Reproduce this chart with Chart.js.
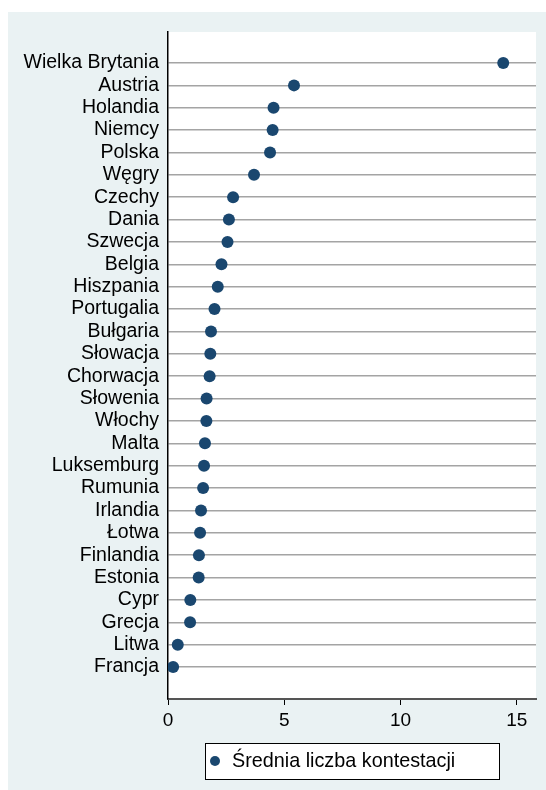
<!DOCTYPE html>
<html>
<head>
<meta charset="utf-8">
<script src="https://cdn.jsdelivr.net/npm/chart.js@4"></script>
<style>
  html, body { margin: 0; padding: 0; background: #ffffff; }
  #wrap { position: relative; width: 546px; height: 790px; }
</style>
</head>
<body>
<div id="wrap"><canvas id="c" width="546" height="790"></canvas></div>
<script>
const categories = ["Wielka Brytania","Austria","Holandia","Niemcy","Polska","Węgry","Czechy","Dania","Szwecja","Belgia","Hiszpania","Portugalia","Bułgaria","Słowacja","Chorwacja","Słowenia","Włochy","Malta","Luksemburg","Rumunia","Irlandia","Łotwa","Finlandia","Estonia","Cypr","Grecja","Litwa","Francja"];
const values = [14.42,5.42,4.54,4.50,4.39,3.70,2.80,2.62,2.56,2.30,2.14,2.00,1.85,1.82,1.79,1.66,1.65,1.59,1.55,1.51,1.42,1.38,1.33,1.32,0.96,0.95,0.42,0.22];
const xTicks = [0,5,10,15];
const seriesLabel = "Średnia liczba kontestacji";

const FONT = "'Liberation Sans', Arial, Helvetica, sans-serif";
const NAVY = "#1a476f";

const bgPlugin = {
  id: 'bg',
  beforeDraw(chart) {
    const ctx = chart.ctx, a = chart.chartArea;
    ctx.save();
    ctx.fillStyle = '#eaf2f3';
    ctx.fillRect(8, 12, chart.width - 8, chart.height - 12);
    ctx.fillStyle = '#ffffff';
    ctx.fillRect(a.left, a.top, a.right - a.left, a.bottom - a.top);
    ctx.restore();
  },
  afterDraw(chart) {
    const ctx = chart.ctx;
    const label = chart.data.datasets[0].label;
    ctx.save();
    const bx = 205, by = 743, bw = 294, bh = 36;
    ctx.fillStyle = '#ffffff';
    ctx.fillRect(bx, by, bw, bh);
    ctx.strokeStyle = '#000000';
    ctx.lineWidth = 1;
    ctx.strokeRect(bx + 0.5, by + 0.5, bw, bh);
    ctx.fillStyle = NAVY;
    ctx.beginPath();
    ctx.arc(215, by + bh / 2, 5, 0, Math.PI * 2);
    ctx.fill();
    ctx.fillStyle = '#000000';
    ctx.font = "19.8px " + FONT;
    ctx.textBaseline = 'middle';
    ctx.textAlign = 'left';
    ctx.fillText(label, 232, by + bh / 2 + 1);
    ctx.restore();
  }
};

new Chart(document.getElementById('c'), {
  type: 'scatter',
  data: {
    datasets: [{
      label: seriesLabel,
      data: values.map((v, i) => ({ x: v, y: i + 1 })),
      backgroundColor: NAVY,
      borderColor: NAVY,
      pointRadius: 6,
      pointHoverRadius: 6,
      borderWidth: 0
    }]
  },
  options: {
    responsive: false,
    animation: false,
    events: [],
    layout: { padding: { top: 32, right: 10, left: 0, bottom: 0 } },
    plugins: { legend: { display: false }, tooltip: { enabled: false } },
    scales: {
      x: {
        type: 'linear',
        min: 0,
        max: 15.83,
        afterFit(s) { s.height = 91; },
        afterBuildTicks(s) { s.ticks = xTicks.map(v => ({ value: v })); },
        ticks: { color: '#000', font: { family: FONT, size: 19 }, padding: 4, maxRotation: 0 },
        grid: { drawOnChartArea: false, drawTicks: true, tickLength: 6, color: '#000', lineWidth: 1 },
        border: { display: true, color: '#555', width: 2 }
      },
      y: {
        type: 'linear',
        reverse: true,
        min: -0.386,
        max: 29.43,
        afterFit(s) { s.width = 168; },
        afterBuildTicks(s) { s.ticks = categories.map((c, i) => ({ value: i + 1 })); },
        ticks: {
          color: '#000',
          font: { family: FONT, size: 19.5 },
          padding: 9,
          autoSkip: false,
          callback: (v) => categories[v - 1]
        },
        grid: { drawTicks: false, color: '#a4a4a4', lineWidth: 1.5 },
        border: { display: true, color: '#000', width: 1.5 }
      }
    }
  },
  plugins: [bgPlugin]
});
</script>
</body>
</html>
